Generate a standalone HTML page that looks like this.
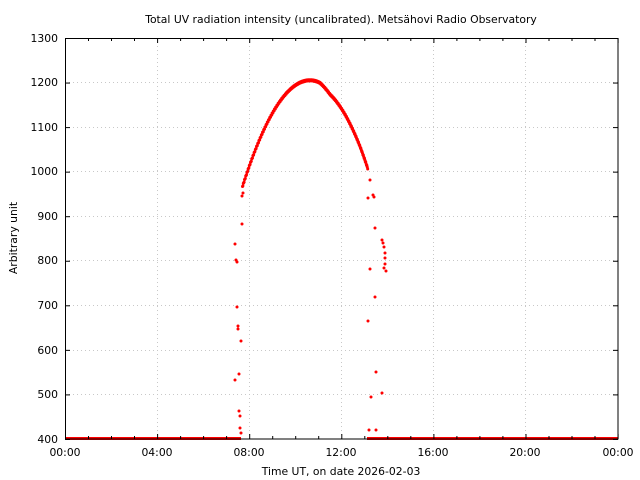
<!DOCTYPE html>
<html><head><style>
html,body{margin:0;padding:0;background:#fff;}
svg{display:block;font-family:"DejaVu Sans",sans-serif;}
</style></head><body>
<svg id="s" width="640" height="480" xmlns="http://www.w3.org/2000/svg">
<rect width="640" height="480" fill="#fff"/>
<g stroke="#c8c8c8" stroke-dasharray="1,3" stroke-width="1">
<line x1="157.5" y1="38" x2="157.5" y2="439"/><line x1="249.5" y1="38" x2="249.5" y2="439"/>
<line x1="341.5" y1="38" x2="341.5" y2="439"/><line x1="433.5" y1="38" x2="433.5" y2="439"/>
<line x1="525.5" y1="38" x2="525.5" y2="439"/>
<line x1="65" y1="82.5" x2="618" y2="82.5"/><line x1="65" y1="127.5" x2="618" y2="127.5"/>
<line x1="65" y1="171.5" x2="618" y2="171.5"/><line x1="65" y1="216.5" x2="618" y2="216.5"/>
<line x1="65" y1="260.5" x2="618" y2="260.5"/><line x1="65" y1="305.5" x2="618" y2="305.5"/>
<line x1="65" y1="350.5" x2="618" y2="350.5"/><line x1="65" y1="394.5" x2="618" y2="394.5"/>
</g>
<g id="pts" fill="#ff0000"></g>
<rect x="65.5" y="38.5" width="552.5" height="400.5" fill="none" stroke="#000" stroke-width="1"/>
<g stroke="#000" id="ticks"></g>
<g font-size="10.8" fill="#000" text-anchor="end">
<text x="58" y="42">1300</text><text x="58" y="86">1200</text><text x="58" y="131">1100</text>
<text x="58" y="175">1000</text><text x="58" y="220">900</text><text x="58" y="264">800</text>
<text x="58" y="309">700</text><text x="58" y="354">600</text><text x="58" y="398">500</text>
<text x="58" y="443">400</text>
</g>
<g font-size="10.8" fill="#000" text-anchor="middle">
<text x="65" y="456">00:00</text><text x="157" y="456">04:00</text><text x="249" y="456">08:00</text>
<text x="341" y="456">12:00</text><text x="433" y="456">16:00</text><text x="525" y="456">20:00</text>
<text x="618" y="456">00:00</text>
<text x="341" y="475">Time UT, on date 2026-02-03</text>
<text x="341" y="23">Total UV radiation intensity (uncalibrated). Metsähovi Radio Observatory</text>
</g>
<text font-size="10.8" text-anchor="middle" transform="translate(17,238) rotate(-90)">Arbitrary unit</text>
</svg>
<script>
var g=document.getElementById('pts'),t=document.getElementById('ticks'),h='',tk='';
function c(x,y){h+='<circle cx="'+x+'" cy="'+y+'" r="1.5"/>';}
h+='<rect x="65" y="437" width="176" height="3"/><rect x="367" y="437" width="251" height="3"/>';
for(var x=242.5;x<=368;x+=0.4){var d=x-310,v;
 if(d<0)v=1205-0.0523*d*d;else v=1205-0.0594*d*d;
 if(x>320&&x<330)v-=8*(x-320)/10;else if(x>=330)v-=8*Math.max(0,1-(x-330)/30);
 c(x,439-(v-400)*0.4456+((Math.round(x*10)*7)%3-1)*0.6);}
[[235,244],[236,260],[237,262],[237,307],[238,326],[238,329],[241,341],[235,380],[239,374],[239,411],[240,416],[240,428],[242,224],[243,193],[242,196],[241,433],[368,198],[370,180],[370,269],[368,321],[371,397],[373,195],[374,197],[375,228],[375,297],[376,372],[376,430],[382,240],[383,243],[384,247],[385,253],[385,258],[385,264],[384,268],[386,271],[382,393],[369,430]].forEach(function(p){c(p[0],p[1]);});
g.innerHTML=h;
for(var i=0;i<=6;i++){var X=65.5+i*92.1;tk+='<line x1="'+X+'" y1="439" x2="'+X+'" y2="434"/><line x1="'+X+'" y1="38" x2="'+X+'" y2="43"/>';
 for(var j=1;j<4;j++){if(i<6){var m=X+j*23;tk+='<line x1="'+m+'" y1="439" x2="'+m+'" y2="436"/><line x1="'+m+'" y1="38" x2="'+m+'" y2="41"/>';}}}
for(var k=0;k<=9;k++){var Y=38.5+k*44.55;tk+='<line x1="65" y1="'+Y+'" x2="70" y2="'+Y+'"/><line x1="618" y1="'+Y+'" x2="613" y2="'+Y+'"/>';}
t.innerHTML=tk;
</script>
</body></html>
